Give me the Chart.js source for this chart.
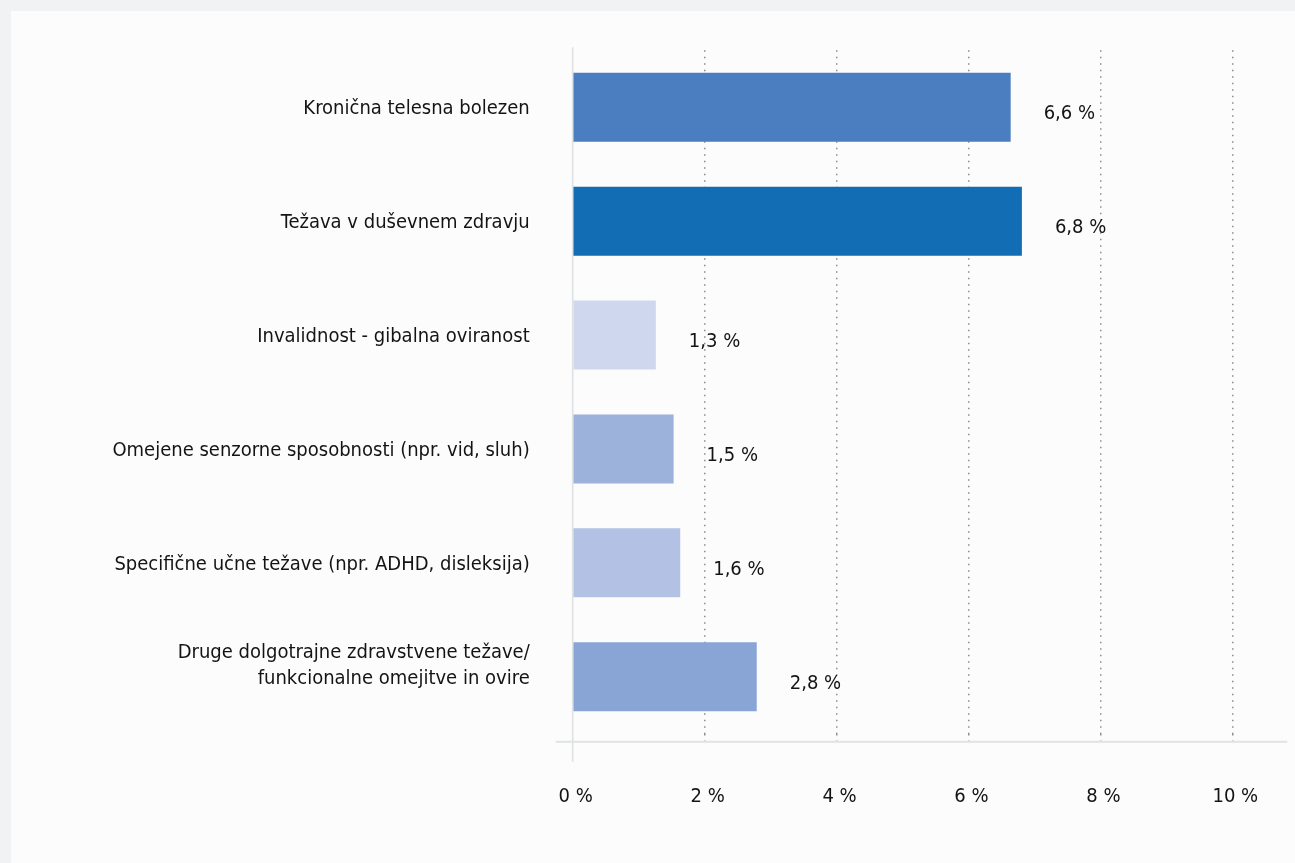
<!DOCTYPE html>
<html>
<head>
<meta charset="utf-8">
<script src="https://cdn.jsdelivr.net/npm/chart.js@4.4.1/dist/chart.umd.min.js"></script>
<style>
  html, body { margin: 0; padding: 0; background: #f1f2f4; width: 1295px; height: 863px; overflow: hidden; }
  #panel { position: absolute; left: 11px; top: 11px; width: 1284px; height: 852px; background: #fcfcfc; }
  canvas { display: block; }
</style>
</head>
<body>
<div id="panel"><canvas id="c" width="1284" height="852"></canvas></div>
<script>
const categories = [
  'Kronična telesna bolezen',
  'Težava v duševnem zdravju',
  'Invalidnost - gibalna oviranost',
  'Omejene senzorne sposobnosti (npr. vid, sluh)',
  'Specifične učne težave (npr. ADHD, disleksija)',
  ['Druge dolgotrajne zdravstvene težave/', 'funkcionalne omejitve in ovire', '']
];
const values = [6.64, 6.81, 1.26, 1.53, 1.63, 2.79];
const barColors = ['#4a7ec0', '#136db4', '#cfd7ee', '#9db2db', '#b2c1e4', '#88a5d5'];
const xTicks = [0, 2, 4, 6, 8, 10];

const FONT = "'Liberation Sans Narrow', 'DejaVu Sans Condensed', 'Roboto', sans-serif";
const FSIZE = 20;
const TEXT = '#141414';
const GRID = 'rgba(135,135,135,0.95)';
const fmt = v => v.toFixed(1).replace('.', ',') + ' %';

const axisLines = {
  id: 'axisLines',
  beforeDatasetsDraw(chart) {
    const {ctx, chartArea, scales} = chart;
    const x0 = scales.x.getPixelForValue(0);
    const yBase = chartArea.bottom + 8;
    ctx.save();
    ctx.strokeStyle = '#e0e3e3';
    ctx.lineWidth = 2;
    ctx.beginPath();
    ctx.moveTo(x0 - 17, yBase);
    ctx.lineTo(chartArea.right + 55, yBase);
    ctx.stroke();
    ctx.lineWidth = 1.7;
    ctx.beginPath();
    ctx.moveTo(x0, chartArea.top - 3);
    ctx.lineTo(x0, yBase + 20);
    ctx.stroke();
    ctx.restore();
  }
};

const valueLabels = {
  id: 'valueLabels',
  afterDatasetsDraw(chart) {
    const {ctx} = chart;
    const meta = chart.getDatasetMeta(0);
    ctx.save();
    ctx.font = FSIZE + 'px ' + FONT;
    ctx.fillStyle = TEXT;
    ctx.textAlign = 'left';
    ctx.textBaseline = 'middle';
    meta.data.forEach((bar, i) => {
      ctx.fillText(fmt(values[i]), bar.x + 33, bar.y + 7);
    });
    ctx.restore();
  }
};

new Chart(document.getElementById('c'), {
  type: 'bar',
  data: {
    labels: categories,
    datasets: [{
      data: values,
      backgroundColor: barColors,
      borderWidth: 0,
      categoryPercentage: 1,
      barPercentage: 0.606
    }]
  },
  options: {
    indexAxis: 'y',
    responsive: false,
    animation: false,
    events: [],
    layout: { padding: { top: 39.3, right: 62.7, bottom: 0, left: 0 } },
    plugins: { legend: { display: false }, tooltip: { enabled: false } },
    scales: {
      x: {
        type: 'linear',
        min: 0,
        max: 10,
        afterBuildTicks: s => { s.ticks = xTicks.map(v => ({ value: v })); },
        afterFit: s => { s.height = 129.3; s.paddingLeft = 0; s.paddingRight = 0; },
        grid: {
          display: true,
          drawOnChartArea: true,
          drawTicks: true,
          tickLength: 8,
          lineWidth: 1.5,
          tickWidth: 1.5,
          color: c => (c.tick && c.tick.value === 0) ? 'rgba(0,0,0,0)' : GRID,
          tickColor: c => (c.tick && c.tick.value === 0) ? 'rgba(0,0,0,0)' : GRID,
          tickBorderDash: [1.5, 5]
        },
        border: { display: false, dash: [1.5, 5] },
        ticks: {
          color: TEXT,
          font: { family: FONT, size: FSIZE, lineHeight: 1.28 },
          padding: 42,
          labelOffset: 3,
          maxRotation: 0,
          callback: v => v + ' %'
        }
      },
      y: {
        type: 'category',
        afterFit: s => { s.width = 561.7; s.paddingTop = 0; s.paddingBottom = 0; },
        grid: { display: false, drawTicks: false },
        border: { display: false },
        ticks: {
          color: TEXT,
          font: { family: FONT, size: FSIZE, lineHeight: 1.28 },
          padding: 43,
          labelOffset: 2,
          autoSkip: false
        }
      }
    }
  },
  plugins: [axisLines, valueLabels]
});
</script>
</body>
</html>
